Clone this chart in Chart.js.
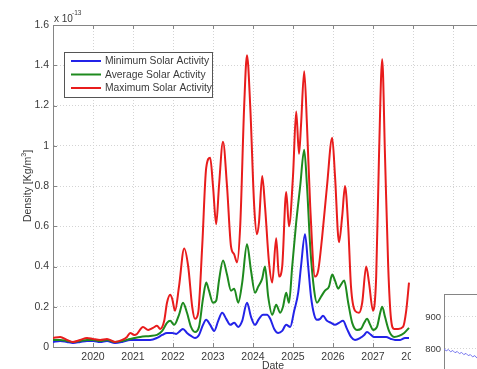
<!DOCTYPE html>
<html>
<head>
<meta charset="utf-8">
<script src="https://cdn.jsdelivr.net/npm/chart.js@4.4.1/dist/chart.umd.min.js"></script>
<style>
  html, body { margin: 0; padding: 0; background: #fff; }
  #wrap { position: relative; width: 477px; height: 369px; overflow: hidden; }
  canvas { display: block; }
  #inset { position: absolute; left: 411px; top: 278px; width: 66px; height: 91px; background: #fff; }
</style>
</head>
<body>
<div id="wrap">
  <canvas id="densityChart" width="477" height="369"></canvas>
  <div id="inset"><canvas id="insetChart" width="66" height="91"></canvas></div>
</div>
<script>
// Density values are in units of 1e-13 kg/m^3, dates are decimal years
const minDates = [2019.00, 2019.18, 2019.35, 2019.50, 2019.68, 2019.85, 2020.00, 2020.18, 2020.35, 2020.55, 2020.73, 2020.93,
  2021.18, 2021.43, 2021.60, 2021.73, 2021.85, 2021.98, 2022.08, 2022.18, 2022.25, 2022.35, 2022.45, 2022.55, 2022.65, 2022.75,
  2022.83, 2022.93, 2023.03, 2023.13, 2023.23, 2023.33, 2023.43, 2023.53, 2023.63, 2023.73, 2023.85, 2023.95, 2024.05, 2024.15,
  2024.25, 2024.35, 2024.43, 2024.53, 2024.63, 2024.73, 2024.83, 2024.93, 2025.03, 2025.13, 2025.20, 2025.30, 2025.38, 2025.45,
  2025.53, 2025.60, 2025.68, 2025.75, 2025.85, 2025.95, 2026.05, 2026.15, 2026.25, 2026.35, 2026.45, 2026.55, 2026.68, 2026.78,
  2026.85, 2026.95, 2027.03, 2027.18, 2027.33, 2027.45, 2027.55, 2027.68, 2027.80, 2027.90];
const minValues = [0.025, 0.03, 0.025, 0.02, 0.025, 0.03, 0.03, 0.025, 0.03, 0.02, 0.025, 0.035,
  0.035, 0.035, 0.045, 0.06, 0.07, 0.07, 0.065, 0.08, 0.09, 0.07, 0.055, 0.045, 0.06, 0.11,
  0.135, 0.11, 0.08, 0.13, 0.17, 0.14, 0.11, 0.12, 0.10, 0.13, 0.22, 0.15, 0.11, 0.14,
  0.16, 0.16, 0.14, 0.09, 0.07, 0.08, 0.11, 0.10, 0.18, 0.27, 0.40, 0.56, 0.40, 0.25,
  0.16, 0.135, 0.14, 0.155, 0.13, 0.12, 0.11, 0.12, 0.13, 0.09, 0.05, 0.035, 0.045, 0.06,
  0.075, 0.06, 0.05, 0.05, 0.05, 0.04, 0.035, 0.035, 0.045, 0.045];

const avgDates = [2019.00, 2019.18, 2019.35, 2019.50, 2019.68, 2019.85, 2020.00, 2020.18, 2020.35, 2020.55, 2020.73, 2020.93,
  2021.18, 2021.43, 2021.60, 2021.73, 2021.85, 2021.93, 2022.03, 2022.15, 2022.25, 2022.35, 2022.45, 2022.55, 2022.65, 2022.75,
  2022.83, 2022.90, 2023.00, 2023.08, 2023.15, 2023.25, 2023.35, 2023.45, 2023.53, 2023.63, 2023.73, 2023.85, 2023.95,
  2024.05, 2024.13, 2024.23, 2024.30, 2024.38, 2024.48, 2024.58, 2024.68, 2024.75, 2024.83, 2024.90, 2024.98,
  2025.08, 2025.18, 2025.28, 2025.35, 2025.43, 2025.53, 2025.60, 2025.70, 2025.80, 2025.90, 2025.98,
  2026.05, 2026.13, 2026.20, 2026.28, 2026.38, 2026.48, 2026.60, 2026.70, 2026.78, 2026.85, 2026.93,
  2027.00, 2027.10, 2027.18, 2027.23, 2027.30, 2027.40, 2027.53, 2027.65, 2027.78, 2027.90];
const avgValues = [0.035, 0.035, 0.03, 0.025, 0.03, 0.035, 0.035, 0.03, 0.035, 0.025, 0.03, 0.04,
  0.05, 0.055, 0.06, 0.08, 0.12, 0.13, 0.11, 0.16, 0.22, 0.17, 0.10, 0.075, 0.10, 0.24,
  0.32, 0.28, 0.22, 0.23, 0.33, 0.43, 0.36, 0.28, 0.29, 0.22, 0.32, 0.51, 0.38,
  0.27, 0.30, 0.34, 0.40, 0.25, 0.16, 0.21, 0.17, 0.20, 0.27, 0.22, 0.40,
  0.62, 0.80, 0.98, 0.80, 0.50, 0.28, 0.22, 0.25, 0.28, 0.30, 0.36,
  0.33, 0.29, 0.31, 0.33, 0.22, 0.12, 0.085, 0.09, 0.12, 0.14, 0.11,
  0.085, 0.10, 0.17, 0.20, 0.15, 0.08, 0.05, 0.055, 0.07, 0.095];

const maxDates = [2019.00, 2019.18, 2019.35, 2019.50, 2019.68, 2019.85, 2020.00, 2020.18, 2020.35, 2020.55, 2020.73, 2020.85, 2020.93,
  2021.03, 2021.10, 2021.25, 2021.38, 2021.50, 2021.60, 2021.68, 2021.78, 2021.85, 2021.93, 2021.98,
  2022.05, 2022.15, 2022.28, 2022.38, 2022.48, 2022.55, 2022.63, 2022.73, 2022.83, 2022.93,
  2023.00, 2023.08, 2023.15, 2023.25, 2023.35, 2023.45, 2023.53, 2023.60, 2023.68, 2023.78, 2023.85, 2023.93,
  2024.03, 2024.10, 2024.15, 2024.23, 2024.30, 2024.40, 2024.48, 2024.58, 2024.65, 2024.73, 2024.83, 2024.90,
  2025.00, 2025.08, 2025.15, 2025.20, 2025.28, 2025.35, 2025.43, 2025.55, 2025.63, 2025.73, 2025.85, 2025.98,
  2026.05, 2026.15, 2026.23, 2026.30, 2026.38, 2026.45, 2026.55, 2026.65, 2026.73, 2026.83, 2026.90,
  2027.00, 2027.08, 2027.15, 2027.23, 2027.30, 2027.38, 2027.45, 2027.53, 2027.63, 2027.75, 2027.83, 2027.90];
const maxValues = [0.045, 0.05, 0.035, 0.025, 0.035, 0.045, 0.04, 0.035, 0.04, 0.025, 0.035, 0.05, 0.07,
  0.06, 0.065, 0.10, 0.085, 0.095, 0.105, 0.09, 0.13, 0.22, 0.26, 0.24,
  0.18, 0.30, 0.49, 0.40, 0.20, 0.14, 0.17, 0.50, 0.89, 0.94,
  0.80, 0.61, 0.80, 1.02, 0.80, 0.50, 0.46, 0.42, 0.60, 1.20, 1.45, 1.20,
  0.70, 0.56, 0.62, 0.85, 0.70, 0.42, 0.32, 0.54, 0.35, 0.40, 0.77, 0.60,
  0.85, 1.17, 0.96, 1.10, 1.37, 1.10, 0.70, 0.35, 0.38, 0.55, 0.80, 1.04,
  0.85, 0.52, 0.65, 0.80, 0.60, 0.30, 0.18, 0.17, 0.22, 0.40, 0.32,
  0.18, 0.35, 0.95, 1.43, 0.95, 0.40, 0.14, 0.09, 0.09, 0.10, 0.18, 0.32];

const xTickYears = [2019, 2020, 2021, 2022, 2023, 2024, 2025, 2026, 2027, 2028, 2029];
const yTickValues = [0, 0.2, 0.4, 0.6, 0.8, 1, 1.2, 1.4, 1.6];
const seriesNames = ['Minimum Solar Activity', 'Average Solar Activity', 'Maximum Solar Activity'];

// fragment of a neighbouring figure that overlaps the lower right corner
const insetSteps = [0, 1, 2, 3, 4, 5, 6, 7, 8, 9, 10, 11, 12, 13, 14, 15];
const insetValues = [800, 794, 798, 791, 795, 788, 792, 785, 789, 782, 786, 779, 782, 775, 779, 771];
const insetTicks = [800, 900];

const FONT = "'Liberation Sans', Arial, sans-serif";
const TEXT = '#3a3a3a';
const AXIS = '#858585';
const GRID = '#d4d4d4';
const colors = ['#2323e8', '#1e8a1e', '#e81c1c'];

const toPoints = (dates, values) => dates.map((d, i) => ({ x: d, y: values[i] }));

// fixed-size axes with no extra label padding
const fixWidth = (w) => (s) => { s.width = w; s.paddingTop = 0; s.paddingBottom = 0; };
const fixHeight = (h) => (s) => { s.height = h; s.paddingLeft = 0; s.paddingRight = 0; };

// top border, inner ticks, legend and titles in matlab style
const decorPlugin = {
  id: 'decor',
  afterDraw(chart) {
    const { ctx, chartArea: a, scales } = chart;
    ctx.save();
    ctx.strokeStyle = AXIS;
    ctx.lineWidth = 1;
    ctx.beginPath();
    ctx.moveTo(a.left, a.top + 0.5);
    ctx.lineTo(a.right, a.top + 0.5);
    xTickYears.forEach((v) => {
      const x = Math.round(scales.x.getPixelForValue(v)) + 0.5;
      ctx.moveTo(x, a.bottom); ctx.lineTo(x, a.bottom - 4);
      ctx.moveTo(x, a.top); ctx.lineTo(x, a.top + 4);
    });
    yTickValues.forEach((v) => {
      const y = Math.round(scales.y.getPixelForValue(v)) + 0.5;
      ctx.moveTo(a.left, y); ctx.lineTo(a.left + 4, y);
    });
    ctx.stroke();

    // legend
    ctx.fillStyle = '#fff';
    ctx.fillRect(64, 52, 148, 45);
    ctx.strokeStyle = '#555';
    ctx.strokeRect(64.5, 52.5, 148, 45);
    ctx.font = `10.3px ${FONT}`;
    ctx.textBaseline = 'middle';
    ctx.textAlign = 'left';
    seriesNames.forEach((name, i) => {
      const y = 61 + i * 13.5;
      ctx.strokeStyle = colors[i];
      ctx.lineWidth = 2;
      ctx.beginPath();
      ctx.moveTo(71, y); ctx.lineTo(101, y);
      ctx.stroke();
      ctx.fillStyle = TEXT;
      ctx.fillText(name, 105, y + 0.5);
    });

    // exponent label
    ctx.fillStyle = TEXT;
    ctx.font = `10px ${FONT}`;
    ctx.fillText('x 10', 54, 19);
    ctx.font = `6.5px ${FONT}`;
    ctx.fillText('-13', 72, 13);

    // x title
    ctx.font = `10.5px ${FONT}`;
    ctx.textAlign = 'center';
    ctx.textBaseline = 'top';
    ctx.fillText('Date', 273, 361);

    // y title
    ctx.translate(28, 186);
    ctx.rotate(-Math.PI / 2);
    ctx.textAlign = 'left';
    ctx.textBaseline = 'middle';
    const big = `10.5px ${FONT}`, small = `7px ${FONT}`;
    ctx.font = big;
    const w1 = ctx.measureText('Density [Kg/m').width;
    const w3 = ctx.measureText(']').width;
    ctx.font = small;
    const w2 = ctx.measureText('3').width;
    let x = -(w1 + w2 + w3) / 2;
    ctx.font = big;
    ctx.fillText('Density [Kg/m', x, 0);
    ctx.font = small;
    ctx.fillText('3', x + w1, -4);
    ctx.font = big;
    ctx.fillText(']', x + w1 + w2, 0);
    ctx.restore();
  }
};

new Chart(document.getElementById('densityChart'), {
  type: 'line',
  data: {
    datasets: [
      { label: seriesNames[0], data: toPoints(minDates, minValues), borderColor: colors[0], order: 2 },
      { label: seriesNames[1], data: toPoints(avgDates, avgValues), borderColor: colors[1], order: 1 },
      { label: seriesNames[2], data: toPoints(maxDates, maxValues), borderColor: colors[2], order: 0 }
    ]
  },
  options: {
    responsive: false,
    animation: false,
    layout: { autoPadding: false, padding: { top: 25, left: 0, right: 0, bottom: 0 } },
    plugins: { legend: { display: false }, tooltip: { enabled: false } },
    elements: {
      point: { radius: 0 },
      line: { borderWidth: 2, tension: 0.4, cubicInterpolationMode: 'monotone', fill: false }
    },
    scales: {
      x: {
        type: 'linear',
        min: 2019,
        max: 2029.6,
        afterBuildTicks: (s) => { s.ticks = xTickYears.map((v) => ({ value: v })); },
        afterFit: fixHeight(22),
        ticks: {
          autoSkip: false, maxRotation: 0, padding: 4, color: TEXT,
          font: { family: FONT, size: 10.5 },
          callback: (v) => (v === 2019 ? '' : String(v))
        },
        grid: { color: GRID, drawTicks: false },
        border: { color: AXIS, dash: [1, 2] }
      },
      y: {
        min: 0,
        max: 1.6,
        afterBuildTicks: (s) => { s.ticks = yTickValues.map((v) => ({ value: v })); },
        afterFit: fixWidth(53),
        ticks: {
          padding: 4, color: TEXT,
          font: { family: FONT, size: 10.5 },
          callback: (v) => String(v)
        },
        grid: { color: GRID, drawTicks: false },
        border: { color: AXIS, dash: [1, 2] }
      }
    }
  },
  plugins: [decorPlugin]
});

const insetBorderPlugin = {
  id: 'insetBorder',
  afterDraw(chart) {
    const { ctx, chartArea: a } = chart;
    ctx.save();
    ctx.strokeStyle = AXIS;
    ctx.beginPath();
    ctx.moveTo(a.left, a.top + 0.5);
    ctx.lineTo(a.right, a.top + 0.5);
    ctx.stroke();
    ctx.restore();
  }
};

new Chart(document.getElementById('insetChart'), {
  type: 'line',
  data: {
    datasets: [{
      data: toPoints(insetSteps, insetValues),
      borderColor: '#7474ee', borderWidth: 1, pointRadius: 0, tension: 0
    }]
  },
  options: {
    responsive: false,
    animation: false,
    layout: { autoPadding: false, padding: { top: 16, left: 0, right: 0, bottom: 0 } },
    plugins: { legend: { display: false }, tooltip: { enabled: false } },
    scales: {
      x: { type: 'linear', display: false, min: 0, max: 15 },
      y: {
        min: 737,
        max: 972,
        afterBuildTicks: (s) => { s.ticks = insetTicks.map((v) => ({ value: v })); },
        afterFit: fixWidth(33),
        ticks: { padding: 3, color: TEXT, font: { family: FONT, size: 9.5 } },
        grid: { color: GRID, drawTicks: false },
        border: { color: AXIS, dash: [1, 2] }
      }
    }
  },
  plugins: [insetBorderPlugin]
});
</script>
</body>
</html>
